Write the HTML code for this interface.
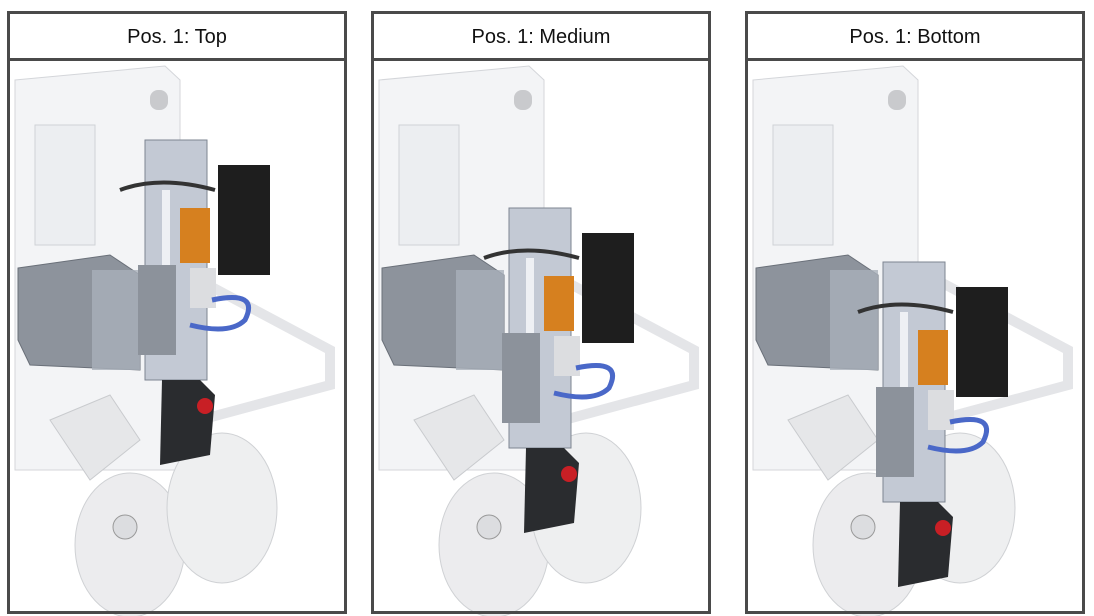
<!DOCTYPE html>
<html><head><style>
body{margin:0;width:1094px;height:616px;background:#fff;overflow:hidden;font-family:"Liberation Sans",sans-serif}
.p{position:absolute;top:11px;width:334px;height:597px;border:3px solid #4a4a4a;box-sizing:content-box}
.h{height:44px;border-bottom:3px solid #4a4a4a;text-align:center;line-height:46px;font-size:20px;color:#111}
svg{position:absolute;left:0;top:0}
</style></head><body>
<svg width="1094" height="616">
<defs>
<g id="base">
<path d="M15 80 L165 66 L180 80 L180 470 L15 470 Z" fill="#f3f4f6" stroke="#d4d6da"/>
<rect x="35" y="125" width="60" height="120" fill="#eceef1" stroke="#cfd2d6"/>
<path d="M180 270 L330 350 L330 385 L200 420" fill="none" stroke="#e4e5e8" stroke-width="10"/>
<ellipse cx="130" cy="545" rx="55" ry="72" fill="#ececee" stroke="#cfd1d4"/>
<ellipse cx="222" cy="508" rx="55" ry="75" fill="#eeeff0" stroke="#cfd1d4"/>
<circle cx="125" cy="527" r="12" fill="#dcdde0" stroke="#999"/>
<path d="M50 420 L110 395 L140 440 L90 480 Z" fill="#e6e7e9" stroke="#c9cbce"/>
<rect x="150" y="90" width="18" height="20" rx="8" fill="#c9cacd"/>
<path d="M18 268 L110 255 L140 275 L140 370 L30 365 L18 340 Z" fill="#8d939c" stroke="#6a7079"/>
<rect x="92" y="270" width="48" height="100" fill="#a9b0ba" opacity=".8"/>
</g>
<g id="move">
<rect x="145" y="140" width="62" height="240" fill="#c3c9d4" stroke="#7d8591"/>
<rect x="162" y="190" width="8" height="90" fill="#eef0f4"/>
<rect x="138" y="265" width="38" height="90" fill="#8c929b"/>
<path d="M120 190 Q160 175 215 190" fill="none" stroke="#333" stroke-width="4"/>
<rect x="218" y="165" width="52" height="110" fill="#1e1e1e"/>
<rect x="180" y="208" width="30" height="55" fill="#d6801f"/>
<rect x="190" y="268" width="26" height="40" fill="#dcdde0"/>
<path d="M212 300 Q260 290 245 320 Q230 335 190 325" fill="none" stroke="#4a68c8" stroke-width="5"/>
<path d="M162 380 L200 380 L215 395 L210 455 L160 465 Z" fill="#2a2c2f"/>
<circle cx="205" cy="406" r="8" fill="#c81f25"/>
</g>
</defs>
<use href="#base"/>
<use href="#move"/>
<use href="#base" x="364"/>
<use href="#move" x="364" y="68"/>
<use href="#base" x="738"/>
<use href="#move" x="738" y="122"/>
</svg>
<div class="p" style="left:7px"><div class="h">Pos. 1: Top</div></div>
<div class="p" style="left:371px"><div class="h">Pos. 1: Medium</div></div>
<div class="p" style="left:745px"><div class="h">Pos. 1: Bottom</div></div>
</body></html>
